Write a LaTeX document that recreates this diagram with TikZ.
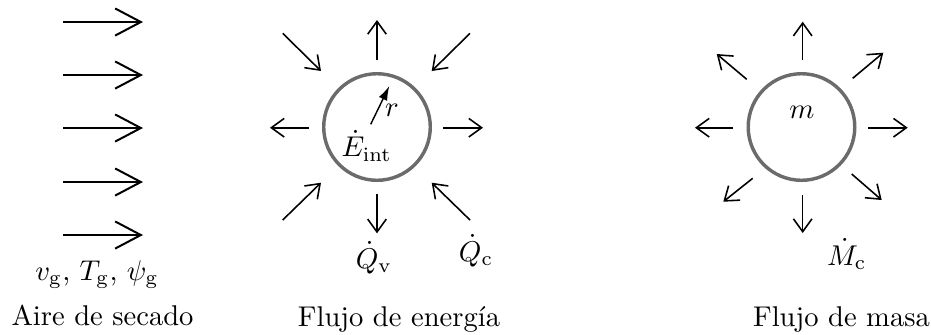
\documentclass[tikz,border=0pt]{standalone}
\usetikzlibrary{arrows.meta}
\begin{document}
\begin{tikzpicture}[x=0.35pt,y=-0.35pt,
  flow/.style={line width=0.7pt,-{Straight Barb[length=9pt,width=9.5pt]}},
  ray/.style={line width=0.55pt,-{Straight Barb[length=4.5pt,width=6.5pt]}},
  drop/.style={circle,draw=black!58,line width=1.2pt,minimum size=37.3pt,inner sep=0pt},
  lbl/.style={anchor=base,inner sep=0pt}]
\useasboundingbox (0,0) rectangle (931,334);

% ---- Aire de secado ----
\foreach \i/\y in {1/22,2/75,3/128,4/182,5/235}{
  \coordinate (a\i s) at (63,\y);
  \coordinate (a\i e) at (143,\y);
  \draw[flow] (a\i s) -- (a\i e);
}
\node[lbl] (vars) at (97,280) {$v_{\mathrm{g}}$, $T_{\mathrm{g}}$, $\psi_{\mathrm{g}}$};
\node[lbl] (aire) at (102.5,325) {Aire de secado};

% ---- Flujo de energia ----
\node[drop] (E) at (377,127) {};
\coordinate (eUs) at (377,60);   \coordinate (eUe) at (377,20);
\coordinate (eLs) at (309,127.7); \coordinate (eLe) at (270,127.7);
\coordinate (eRs) at (443,127.7); \coordinate (eRe) at (483,127.7);
\coordinate (eDs) at (377,194);  \coordinate (eDe) at (377,233.3);
\coordinate (eULs) at (282.7,33.3); \coordinate (eULe) at (321,71);
\coordinate (eURs) at (470,33.3);   \coordinate (eURe) at (431.7,71);
\coordinate (eLLs) at (282.7,220);  \coordinate (eLLe) at (321,182.7);
\coordinate (eLRs) at (470,220);    \coordinate (eLRe) at (431.7,182.7);
\foreach \d in {U,L,R,D,UL,UR,LL,LR}{\draw[ray] (e\d s) -- (e\d e);}
\coordinate (rS) at (370.7,124.3); \coordinate (rE) at (389.3,86);
\draw[line width=0.5pt,-{Latex[length=5pt,width=3.2pt]}] (rS) -- (rE);
\node[lbl] (rl) at (392,116.7) {$r$};
\node[lbl] (Eint) at (366.7,156.7) {$\dot{E}_{\mathrm{int}}$};
\node[lbl] (Qv) at (374,268) {$\dot{Q}_{\mathrm{v}}$};
\node[lbl] (Qc) at (476,261) {$\dot{Q}_{\mathrm{c}}$};
\node[lbl] (ener) at (399,326) {Flujo de energía};

% ---- Flujo de masa ----
\node[drop] (M) at (801.5,127) {};
\coordinate (mUs) at (802.7,60);   \coordinate (mUe) at (802.7,21.7);
\coordinate (mLs) at (733,127.7);  \coordinate (mLe) at (695,127.7);
\coordinate (mRs) at (868,127.7);  \coordinate (mRe) at (907.7,127.7);
\coordinate (mDs) at (802.7,195);  \coordinate (mDe) at (802.7,233);
\coordinate (mULs) at (746.7,79.3);  \coordinate (mULe) at (716.7,54);
\coordinate (mURs) at (852.7,78.3);  \coordinate (mURe) at (883.3,52.7);
\coordinate (mLLs) at (752.7,178.3); \coordinate (mLLe) at (723.3,201.7);
\coordinate (mLRs) at (851.7,174);   \coordinate (mLRe) at (881.7,200);
\foreach \d in {U,L,R,D,UL,UR,LL,LR}{\draw[ray] (m\d s) -- (m\d e);}
\node[lbl] (mm) at (802,118) {$m$};
\node[lbl] (Mc) at (846.7,265) {$\dot{M}_{\mathrm{c}}$};
\node[lbl] (masa) at (841.5,326) {Flujo de masa};
\end{tikzpicture}
\end{document}
